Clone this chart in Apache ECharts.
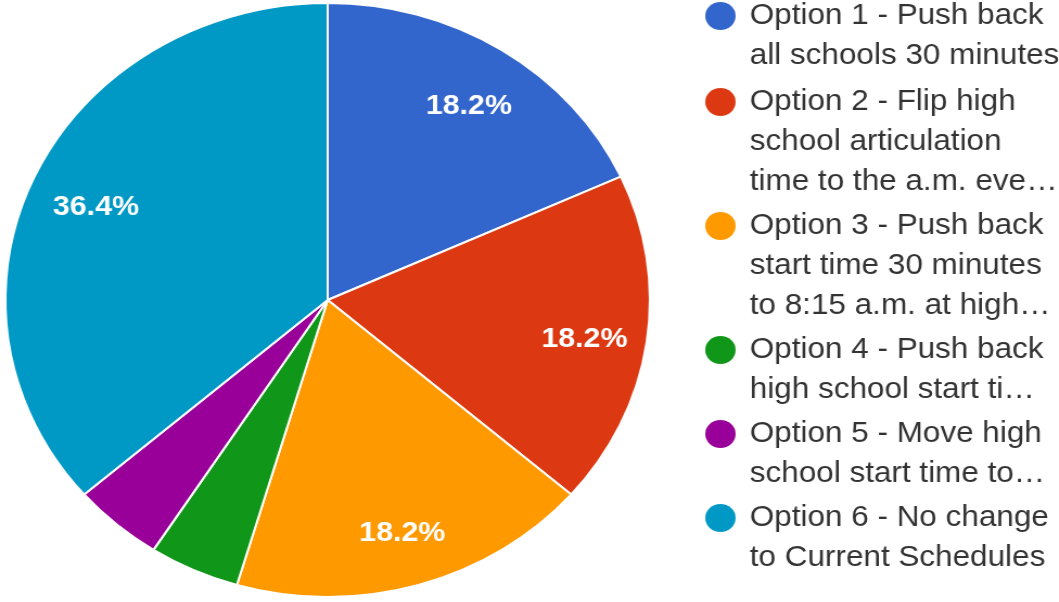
<!DOCTYPE html>
<html>
<head>
<meta charset="utf-8">
<script src="https://cdn.jsdelivr.net/npm/echarts@6/dist/echarts.min.js"></script>
<style>
  html, body { margin: 0; padding: 0; background: #fff; overflow: hidden; }
  #wrap { width: 1059px; height: 602px; overflow: hidden; }
  #chart { width: 976px; height: 602px; transform: scaleX(1.085); transform-origin: 0 0; }
</style>
</head>
<body>
<div id="wrap"><div id="chart"></div></div>
<script>
const categories = [
  "Option 1 - Push back all schools 30 minutes",
  "Option 2 - Flip high school articulation time to the a.m. eve…",
  "Option 3 - Push back start time 30 minutes to 8:15 a.m. at high…",
  "Option 4 - Push back high school start ti…",
  "Option 5 - Move high school start time to…",
  "Option 6 - No change to Current Schedules"
];
const legendLabels = [
  "Option 1 - Push back\nall schools 30 minutes",
  "Option 2 - Flip high\nschool articulation\ntime to the a.m. eve…",
  "Option 3 - Push back\nstart time 30 minutes\nto 8:15 a.m. at high…",
  "Option 4 - Push back\nhigh school start ti…",
  "Option 5 - Move high\nschool start time to…",
  "Option 6 - No change\nto Current Schedules"
];
const counts = [4, 4, 4, 1, 1, 8];
const colors = ["#3366cc", "#dc3912", "#ff9900", "#109618", "#990099", "#0099c6"];

const FONT = "'Liberation Sans', Arial, sans-serif";
const pieData = categories.map((n, i) => ({ name: n, value: counts[i] }));

const icon2 = 'path://M0,0L0,0M36,80L36,80M0,20A14,14,0,1,1,28,20A14,14,0,1,1,0,20Z';
const icon3 = 'path://M0,0L0,0M36,120L36,120M0,20A14,14,0,1,1,28,20A14,14,0,1,1,0,20Z';

function legendBase(extra) {
  return Object.assign({
    orient: 'vertical',
    left: 650,
    itemWidth: 36,
    itemGap: 4,
    padding: 0,
    itemStyle: { borderWidth: 0 },
    textStyle: { fontSize: 29, lineHeight: 40, color: '#333', fontFamily: FONT },
    formatter: name => legendLabels[categories.indexOf(name)]
  }, extra);
}

const chart = echarts.init(document.getElementById('chart'));
chart.setOption({
  animation: false,
  color: colors,
  legend: [
    legendBase({ data: [categories[0]], top: -4, icon: icon2, itemHeight: 80 }),
    legendBase({ data: [categories[1], categories[2]], top: 82, icon: icon3, itemHeight: 120 }),
    legendBase({ data: categories.slice(3), top: 330, icon: icon2, itemHeight: 80 })
  ],
  series: [
    {
      type: 'pie',
      center: [302, 300],
      radius: [0, 297],
      startAngle: 90,
      clockwise: true,
      percentPrecision: 1,
      avoidLabelOverlap: false,
      itemStyle: { borderColor: '#fff', borderWidth: 2 },
      label: { show: false },
      labelLine: { show: false },
      emphasis: { scale: false },
      data: pieData
    },
    {
      type: 'pie',
      silent: true,
      legendHoverLink: false,
      center: [302, 300],
      radius: [171, 297],
      startAngle: 90,
      clockwise: true,
      percentPrecision: 1,
      avoidLabelOverlap: false,
      itemStyle: { color: 'transparent', borderWidth: 0 },
      labelLine: { show: false },
      label: {
        show: true,
        position: 'inside',
        offset: [2, 6],
        color: '#fff',
        fontSize: 28,
        fontWeight: 'bold',
        fontFamily: FONT,
        formatter: p => p.percent < 10 ? '' : p.percent.toFixed(1) + '%'
      },
      data: pieData
    }
  ]
});
</script>
</body>
</html>
